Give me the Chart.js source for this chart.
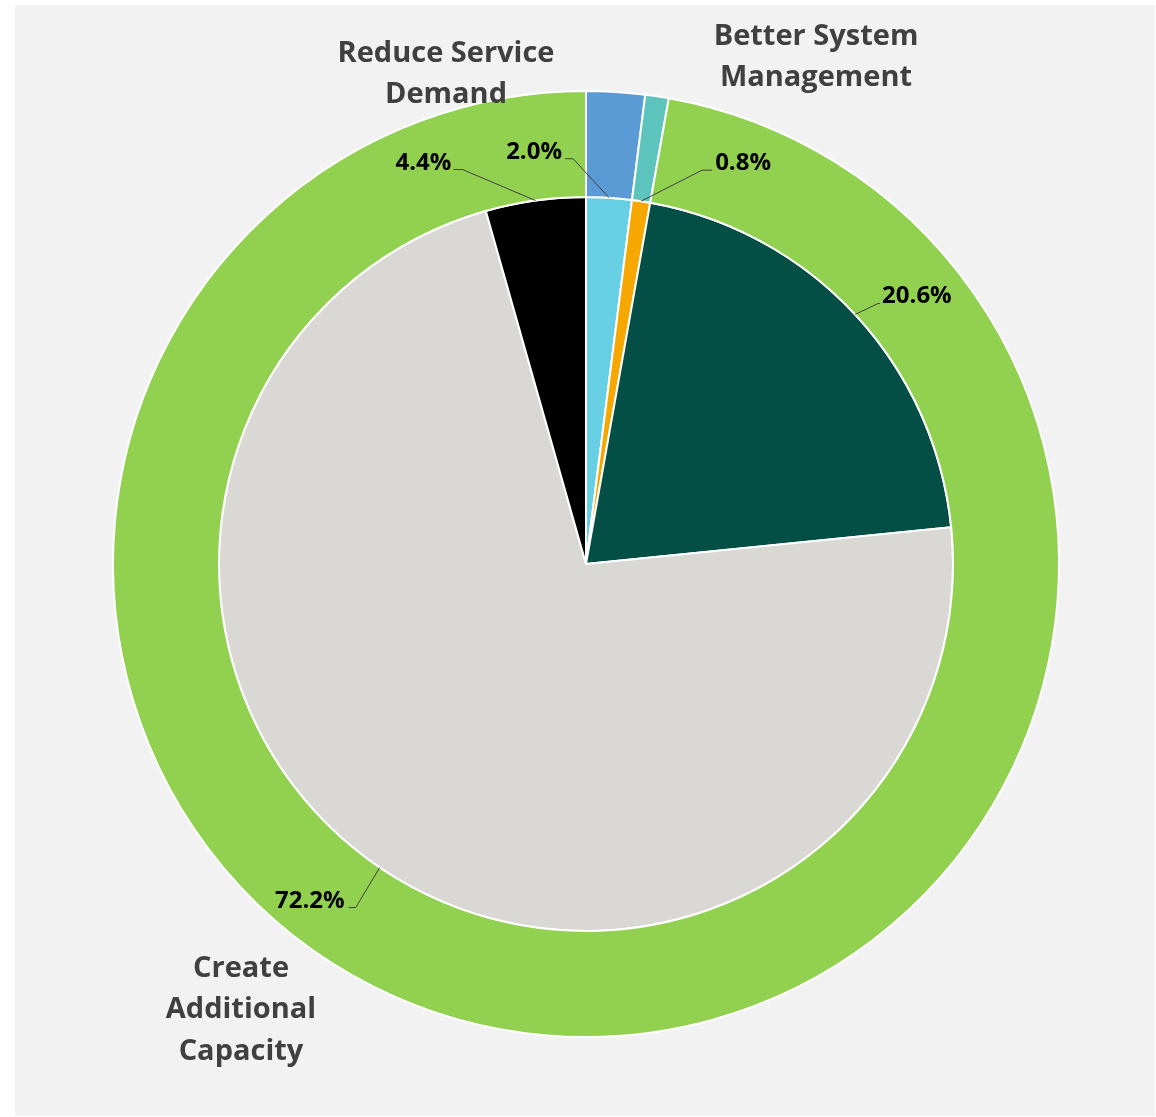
<!DOCTYPE html>
<html>
<head>
<meta charset="utf-8">
<script src="https://cdn.jsdelivr.net/npm/chart.js@4/dist/chart.umd.min.js"></script>
<style>
  html, body { margin: 0; padding: 0; background: #ffffff; }
  #wrap { position: relative; width: 1156px; height: 1117px; }
  #panel { position: absolute; left: 15px; top: 5px; width: 1140px; height: 1111px; background: #f2f2f2; }
  canvas { position: absolute; left: 0; top: 0; }
</style>
</head>
<body>
<div id="wrap">
  <div id="panel"></div>
  <canvas id="chart" width="1156" height="1117"></canvas>
</div>
<script>
// Outer ring: strategy groups (share of total, %)
const ringLabels = ['Reduce Service Demand', 'Better System Management', 'Create Additional Capacity'];
const ringValues = [2.0, 0.8, 97.2];
const ringColors = ['#5b9bd5', '#5dc3bd', '#92d050'];

// Inner pie: individual items (share of total, %)
const pieLabels = ['Item 1', 'Item 2', 'Item 3', 'Item 4', 'Item 5'];
const pieValues = [2.0, 0.8, 20.6, 72.2, 4.4];
const pieColors = ['#66cfe3', '#f7a800', '#034e45', '#d9d8d4', '#000000'];

// Callout placement for each inner slice, relative to the slice's edge midpoint:
// elbow of the leader, end of the leader, text anchor (baseline) and alignment.
const calloutPlacement = [
  { elbow: [-36, -39], end: [-44, -39], text: [-47, -39], align: 'right' },
  { elbow: [61, -31],  end: [71, -31],  text: [74, -31],  align: 'left' },
  { elbow: [23, -11],  end: [25, -11],  text: [27, -11],  align: 'left' },
  { elbow: [-24, 40],  end: [-31, 40],  text: [-35, 40],  align: 'right' },
  { elbow: [-73, -31], end: [-82, -31], text: [-84, -31], align: 'right' }
];

// Ring group titles: line breaks and baseline offsets from the chart centre
const ringTitleLines = [
  ['Reduce Service', 'Demand'],
  ['Better System', 'Management'],
  ['Create', 'Additional', 'Capacity']
];
const ringTitlePlacement = [
  { x: -140, y: [-502, -461] },
  { x: 230,  y: [-519, -478] },
  { x: -345, y: [413, 454, 496] }
];

const calloutPlugin = {
  id: 'callouts',
  afterDatasetsDraw(chart) {
    const ctx = chart.ctx;
    const meta = chart.getDatasetMeta(1);
    ctx.save();
    meta.data.forEach((arc, i) => {
      const p = arc.getProps(['x', 'y', 'startAngle', 'endAngle', 'outerRadius'], true);
      const mid = (p.startAngle + p.endAngle) / 2;
      const ex = p.x + Math.cos(mid) * p.outerRadius;
      const ey = p.y + Math.sin(mid) * p.outerRadius;
      const c = calloutPlacement[i];
      ctx.strokeStyle = '#404040';
      ctx.lineWidth = 1;
      ctx.beginPath();
      ctx.moveTo(ex, ey);
      ctx.lineTo(ex + c.elbow[0], ey + c.elbow[1]);
      ctx.lineTo(ex + c.end[0], ey + c.end[1]);
      ctx.stroke();
      ctx.fillStyle = '#000000';
      ctx.font = 'bold 24px "Open Sans"';
      ctx.textAlign = c.align;
      ctx.textBaseline = 'alphabetic';
      ctx.fillText(pieValues[i].toFixed(1) + '%', ex + c.text[0], ey + c.text[1]);
    });

    const ring = chart.getDatasetMeta(0).data[0];
    const cx = ring.x, cy = ring.y;
    ctx.fillStyle = '#404040';
    ctx.font = 'bold 29px "Open Sans"';
    ctx.textAlign = 'center';
    ringTitleLines.forEach((lines, i) => {
      const pl = ringTitlePlacement[i];
      lines.forEach((line, j) => ctx.fillText(line, cx + pl.x, cy + pl.y[j]));
    });
    ctx.restore();
  }
};

new Chart(document.getElementById('chart'), {
  type: 'doughnut',
  data: {
    labels: pieLabels,
    datasets: [
      {
        label: 'Strategy',
        data: ringValues,
        backgroundColor: ringColors,
        borderColor: '#ffffff',
        borderWidth: 2,
        weight: 106
      },
      {
        label: 'Items',
        data: pieValues,
        backgroundColor: pieColors,
        borderColor: '#ffffff',
        borderWidth: 2,
        weight: 367
      }
    ]
  },
  options: {
    responsive: false,
    animation: false,
    cutout: 0,
    layout: { padding: { left: 112, right: 96, top: 90, bottom: 79 } },
    plugins: {
      legend: { display: false },
      tooltip: { enabled: false }
    }
  },
  plugins: [calloutPlugin]
});
</script>
</body>
</html>
